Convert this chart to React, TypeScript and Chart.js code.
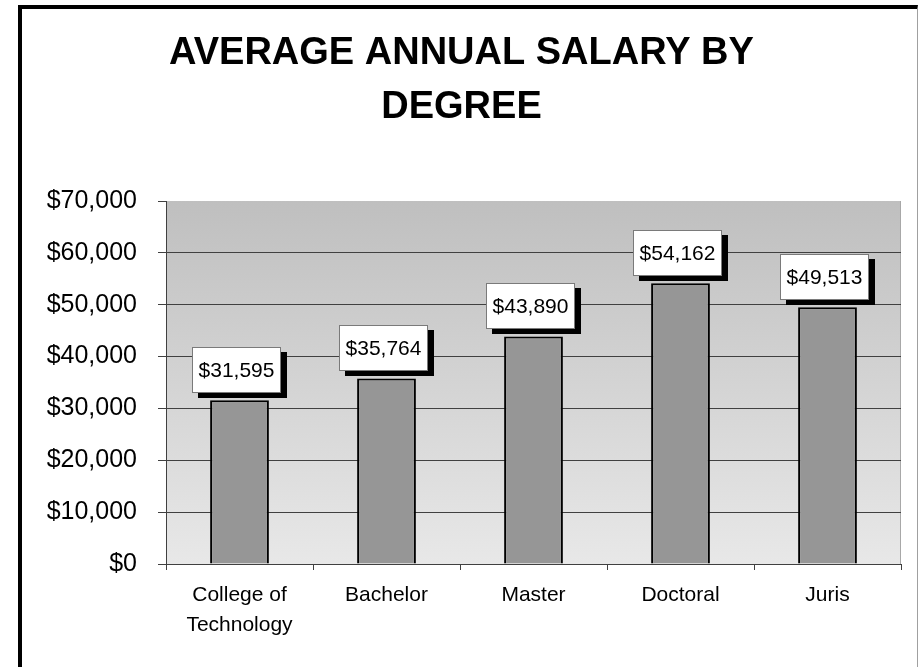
import React, { useEffect, useRef } from "react";
import { Chart, registerables } from "chart.js";

Chart.register(...registerables);

const TITLE_LINES = ["AVERAGE ANNUAL SALARY BY", "DEGREE"];
const categories: (string | string[])[] = [["College of", "Technology"], "Bachelor", "Master", "Doctoral", "Juris"];
const salaries = [31595, 35764, 43890, 54162, 49513];
const yMin = 0;
const yMax = 70000;
const yStep = 10000;

const FONT = '"Liberation Sans", Arial, Helvetica, sans-serif';

const fmt = (v: number) => "$" + Number(v).toLocaleString("en-US");

const backgroundPlugin = {
  id: "plotBg",
  beforeDraw(chart: any) {
    const { ctx, chartArea } = chart;
    if (!chartArea) return;
    const g = ctx.createLinearGradient(0, chartArea.top, 0, chartArea.bottom);
    g.addColorStop(0, "#bfbfbf");
    g.addColorStop(1, "#e8e8e8");
    ctx.save();
    ctx.fillStyle = g;
    ctx.fillRect(chartArea.left, chartArea.top, chartArea.right - chartArea.left, chartArea.bottom - chartArea.top);
    ctx.strokeStyle = "#a8a8a8";
    ctx.lineWidth = 1;
    ctx.beginPath();
    ctx.moveTo(chartArea.right - 0.5, chartArea.top);
    ctx.lineTo(chartArea.right - 0.5, chartArea.bottom);
    ctx.stroke();
    ctx.restore();
  },
};

const labelPlugin = {
  id: "boxLabels",
  afterDatasetsDraw(chart: any) {
    const { ctx } = chart;
    const meta = chart.getDatasetMeta(0);
    const data = chart.data.datasets[0].data as number[];
    ctx.save();
    ctx.font = `21px ${FONT}`;
    meta.data.forEach((bar: any, i: number) => {
      const text = fmt(data[i]);
      const tw = ctx.measureText(text).width;
      const w = Math.round(tw + 13);
      const h = 46;
      const cx = bar.x - 3;
      const bottom = Math.round(bar.y - 7.5);
      const left = Math.round(cx - w / 2);
      const top = bottom - h;
      ctx.fillStyle = "#000";
      ctx.fillRect(left + 6, top + 5, w, h);
      ctx.fillStyle = "#fff";
      ctx.fillRect(left, top, w, h);
      ctx.strokeStyle = "#7a7a7a";
      ctx.lineWidth = 1;
      ctx.strokeRect(left + 0.5, top + 0.5, w - 1, h - 1);
      ctx.fillStyle = "#000";
      ctx.textAlign = "center";
      ctx.textBaseline = "middle";
      ctx.fillText(text, left + w / 2, top + h / 2 + 1);
    });
    ctx.restore();
  },
};

function SalaryChart() {
  const ref = useRef<HTMLCanvasElement | null>(null);
  useEffect(() => {
    if (!ref.current) return;
    const chart = new Chart(ref.current, {
      type: "bar",
      data: {
        labels: categories,
        datasets: [
          {
            data: salaries,
            backgroundColor: "#969696",
            borderColor: "#000000",
            borderWidth: 2,
            barPercentage: 0.4,
            categoryPercentage: 1,
          },
        ],
      },
      plugins: [backgroundPlugin, labelPlugin],
      options: {
        responsive: false,
        devicePixelRatio: 1,
        animation: false,
        layout: { padding: { left: 0, right: 16, top: 0, bottom: 0 } },
        plugins: {
          legend: { display: false },
          tooltip: { enabled: false },
          title: {
            display: true,
            text: TITLE_LINES,
            color: "#000",
            font: { family: FONT, size: 38, weight: "bold", lineHeight: 54 / 38 },
            padding: { top: 18, bottom: 66 },
          },
        },
        scales: {
          x: {
            type: "category",
            grid: {
              display: true,
              drawOnChartArea: false,
              drawTicks: true,
              tickLength: 6,
              color: "#404040",
              tickColor: "#404040",
              offset: true,
            },
            border: { display: true, color: "#404040", width: 1 },
            ticks: {
              color: "#000",
              font: { family: FONT, size: 21, lineHeight: 30 / 21 },
              padding: 10,
              maxRotation: 0,
              autoSkip: false,
            },
            afterFit: (s: any) => {
              s.height = 103;
            },
          },
          y: {
            min: yMin,
            max: yMax,
            grid: {
              color: (c: any) => (c.tick && c.tick.value === yMax ? "rgba(0,0,0,0)" : "#404040"),
              tickColor: "#404040",
              tickLength: 8,
              drawTicks: true,
            },
            border: { display: true, color: "#404040", width: 1 },
            ticks: {
              stepSize: yStep,
              color: "#000",
              font: { family: FONT, size: 25 },
              padding: 21,
              callback: (v: any) => fmt(v),
            },
            afterFit: (s: any) => {
              s.width = 144;
            },
          },
        },
      },
    });
    return () => chart.destroy();
  }, []);
  return (
    <canvas
      ref={ref}
      width={895}
      height={658}
      style={{ position: "absolute", left: 22, top: 9, width: 895, height: 658, display: "block" }}
    />
  );
}

export default function App() {
  return (
    <div
      style={{
        position: "fixed",
        left: 0,
        top: 0,
        width: 919,
        height: 667,
        background: "#fff",
        overflow: "hidden",
      }}
    >
      <div
        style={{
          position: "absolute",
          left: 18,
          top: 5,
          width: 895,
          height: 700,
          borderLeft: "4px solid #000",
          borderTop: "4px solid #000",
          borderRight: "1px solid #a0a0a0",
        }}
      />
      <SalaryChart />
    </div>
  );
}
